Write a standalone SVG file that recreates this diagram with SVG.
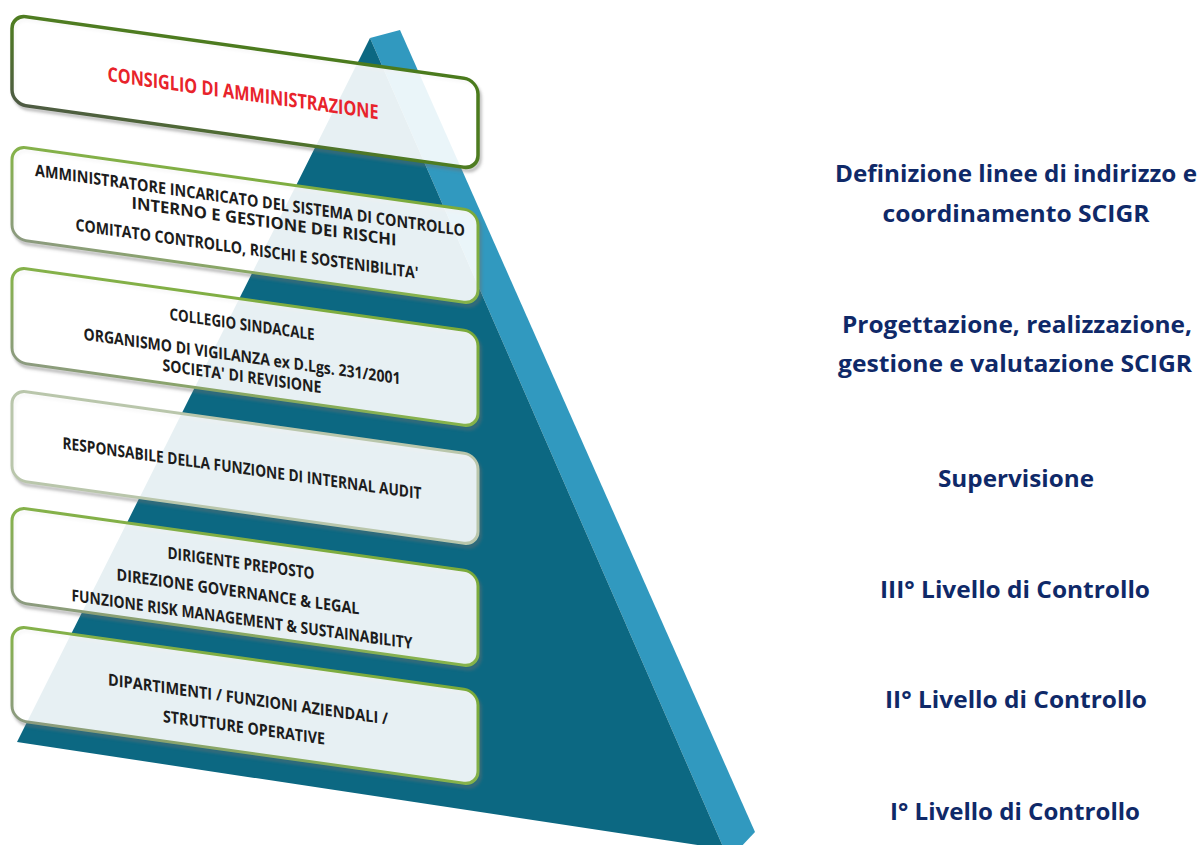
<svg xmlns="http://www.w3.org/2000/svg" width="1201" height="845" viewBox="0 0 1201 845">
<style>
.bx{fill:#ffffff;fill-opacity:0.9;stroke:url(#gb);stroke-width:3}
.bx1{fill:#ffffff;fill-opacity:0.9;stroke:url(#gb1);stroke-width:3.5}
.sh{fill:none;stroke:#6e6e6e;stroke-width:3;stroke-opacity:0.55;filter:url(#blur)}
.t{font-family:"Open Sans","Noto Sans",sans-serif;font-weight:700;font-size:16.5px;fill:#1c1c1c;text-anchor:middle}
.t1{font-family:"Open Sans","Noto Sans",sans-serif;font-weight:700;font-size:20px;fill:#e8232b;text-anchor:middle}
.r{font-family:"Open Sans","Noto Sans",sans-serif;font-weight:700;font-size:23px;fill:#0f2968;text-anchor:middle}
</style>
<defs>
<filter id="blur" x="-10%" y="-20%" width="120%" height="140%"><feGaussianBlur stdDeviation="1.6"/></filter>
<linearGradient id="gb" x1="0" y1="1" x2="1" y2="0">
<stop offset="0" stop-color="#8c9a80"/>
<stop offset="0.45" stop-color="#86b24c"/>
<stop offset="1" stop-color="#7aaa3a"/>
</linearGradient>
<linearGradient id="gb1" x1="0" y1="1" x2="1" y2="0">
<stop offset="0" stop-color="#4e5a44"/>
<stop offset="0.45" stop-color="#4f7c22"/>
<stop offset="1" stop-color="#4a7a1c"/>
</linearGradient>
</defs>
<rect width="1201" height="845" fill="#ffffff"/>
<g id="pyramid">
<polygon points="370,38 400,30 755,832 738,850 724,849" fill="#3199bf"/>
<polygon points="370,38 17,742 724,849" fill="#0c6882"/>
</g>
<g id="box1" transform="skewY(8)">
<rect class="sh" x="14" y="16" width="466" height="89" rx="14"/>
<rect class="bx1" x="12" y="13" width="466" height="89" rx="14"/>
<text class="t1" x="243" y="66" textLength="271" lengthAdjust="spacingAndGlyphs">CONSIGLIO DI AMMINISTRAZIONE</text>
</g>
<g id="box2" transform="skewY(8)">
<rect class="sh" x="14" y="147" width="466" height="93" rx="14"/>
<rect class="bx" x="12" y="144" width="466" height="93" rx="14"/>
<text class="t" x="250" y="171" textLength="430" lengthAdjust="spacingAndGlyphs">AMMINISTRATORE INCARICATO DEL SISTEMA DI CONTROLLO</text>
<text class="t" x="264" y="190" textLength="265" lengthAdjust="spacingAndGlyphs">INTERNO E GESTIONE DEI RISCHI</text>
<text class="t" x="247" y="220" textLength="343" lengthAdjust="spacingAndGlyphs">COMITATO CONTROLLO, RISCHI E SOSTENIBILITA'</text>
</g>
<g id="box3" transform="skewY(8)">
<rect class="sh" x="14" y="268" width="466" height="95" rx="14"/>
<rect class="bx" x="12" y="265" width="466" height="95" rx="14"/>
<text class="t" x="242" y="296" textLength="145" lengthAdjust="spacingAndGlyphs">COLLEGIO SINDACALE</text>
<text class="t" x="242" y="328" textLength="317" lengthAdjust="spacingAndGlyphs">ORGANISMO DI VIGILANZA ex D.Lgs. 231/2001</text>
<text class="t" x="242" y="348" textLength="159" lengthAdjust="spacingAndGlyphs">SOCIETA' DI REVISIONE</text>
</g>
<g id="box4" transform="skewY(8)">
<rect class="sh" x="14" y="391" width="466" height="90" rx="14"/>
<rect class="bx" x="12" y="388" width="466" height="90" rx="14" style="stroke:#b9c6ab"/>
<text class="t" x="242" y="440" textLength="359" lengthAdjust="spacingAndGlyphs">RESPONSABILE DELLA FUNZIONE DI INTERNAL AUDIT</text>
</g>
<g id="box5" transform="skewY(8)">
<rect class="sh" x="14" y="508" width="466" height="95" rx="14"/>
<rect class="bx" x="12" y="505" width="466" height="95" rx="14"/>
<text class="t" x="241" y="535" textLength="147" lengthAdjust="spacingAndGlyphs">DIRIGENTE PREPOSTO</text>
<text class="t" x="238" y="564" textLength="243" lengthAdjust="spacingAndGlyphs">DIREZIONE GOVERNANCE &amp; LEGAL</text>
<text class="t" x="242" y="591" textLength="341" lengthAdjust="spacingAndGlyphs">FUNZIONE RISK MANAGEMENT &amp; SUSTAINABILITY</text>
</g>
<g id="box6" transform="skewY(8)">
<rect class="sh" x="14" y="627" width="466" height="94" rx="14"/>
<rect class="bx" x="12" y="624" width="466" height="94" rx="14"/>
<text class="t" x="248" y="670" textLength="280" lengthAdjust="spacingAndGlyphs">DIPARTIMENTI / FUNZIONI AZIENDALI /</text>
<text class="t" x="244" y="699" textLength="162" lengthAdjust="spacingAndGlyphs">STRUTTURE OPERATIVE</text>
</g>
<g id="labels">
<text class="r" x="1016" y="182" textLength="362" lengthAdjust="spacingAndGlyphs">Definizione linee di indirizzo e</text>
<text class="r" x="1016" y="222" textLength="267" lengthAdjust="spacingAndGlyphs">coordinamento SCIGR</text>
<text class="r" x="1017" y="333" textLength="350" lengthAdjust="spacingAndGlyphs">Progettazione, realizzazione,</text>
<text class="r" x="1015" y="372" textLength="354" lengthAdjust="spacingAndGlyphs">gestione e valutazione SCIGR</text>
<text class="r" x="1016" y="487" textLength="156" lengthAdjust="spacingAndGlyphs">Supervisione</text>
<text class="r" x="1015" y="598" textLength="270" lengthAdjust="spacingAndGlyphs">III° Livello di Controllo</text>
<text class="r" x="1016" y="708" textLength="262" lengthAdjust="spacingAndGlyphs">II° Livello di Controllo</text>
<text class="r" x="1015" y="820" textLength="250" lengthAdjust="spacingAndGlyphs">I° Livello di Controllo</text>
</g>
<g id="connectors"/>
</svg>
